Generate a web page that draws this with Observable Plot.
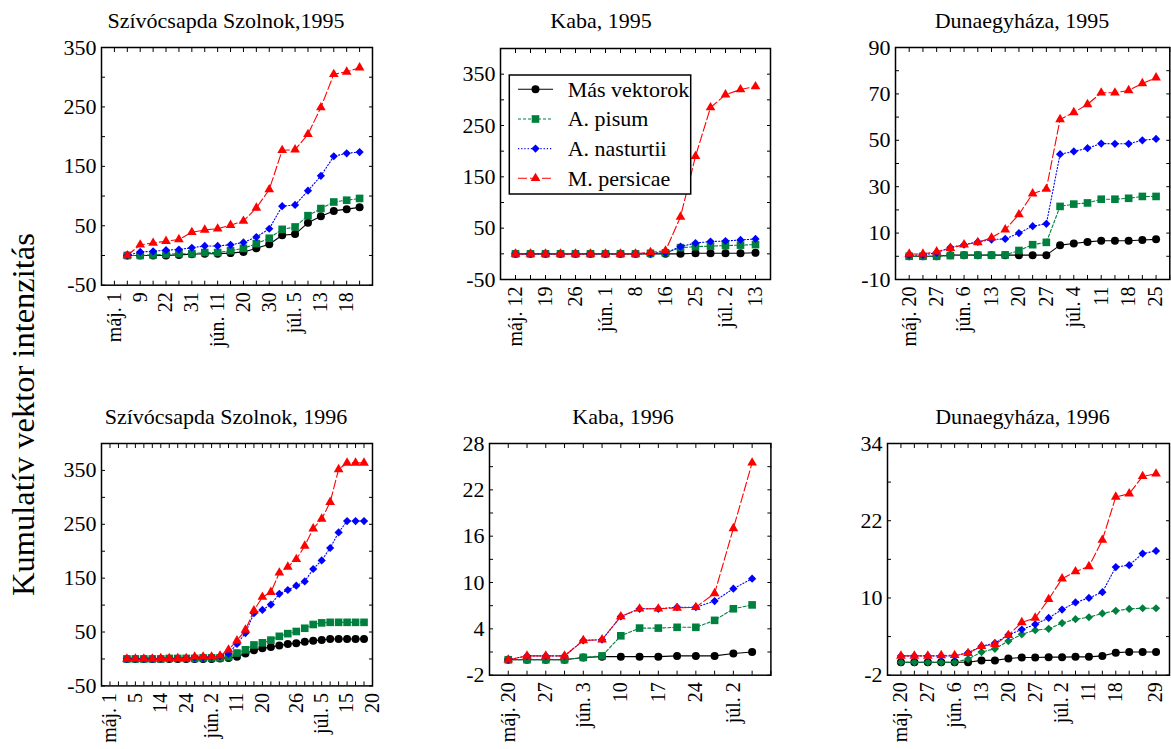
<!DOCTYPE html>
<html><head><meta charset="utf-8">
<script src="https://cdn.jsdelivr.net/npm/d3@7"></script>
<script src="https://cdn.jsdelivr.net/npm/@observablehq/plot@0.6"></script>
<style>
html,body{margin:0;padding:0;background:#fff;}
#wrap{position:relative;width:1171px;height:749px;overflow:hidden;font-family:"Liberation Serif","Times New Roman",serif;}
#wrap text{font-family:"Liberation Serif","Times New Roman",serif;}
</style></head><body><div id="wrap"></div>
<script>
// ---- series names ----
const seriesNames = ["Más vektorok", "A. pisum", "A. nasturtii", "M. persicae"];

// ---- Szívócsapda Szolnok, 1995 ----
const sz95Ticks = ["máj. 1","9","22","31","jún. 11","20","30","júl. 5","13","18"];
const sz95Mas   = [0,0,0,0,1,2,3,3,4,6,12,19,34,36,55,66,75,78,81];
const sz95Pisum = [0,0,1,2,3,3,5,5,8,12,20,29,44,48,67,79,90,93,96];
const sz95Nast  = [0,6,7,9,10,13,16,16,18,22,31,45,83,85,109,134,167,172,174];
const sz95Pers  = [0,18,21,24,27,39,43,45,51,58,80,111,177,178,204,249,305,309,316];

// ---- Kaba, 1995 ----
const kb95Ticks = ["máj. 12","19","26","jún. 1","8","16","25","júl. 2","13"];
const kb95Mas   = [0,0,0,0,0,0,0,0,0,0,0,0,1,1,1,1,2];
const kb95Pisum = [0,0,0,0,0,0,0,0,0,1,2,12,14,15,16,17,18];
const kb95Nast  = [0,0,0,0,0,0,0,0,0,1,2,14,21,24,25,27,29];
const kb95Pers  = [0,0,0,0,0,0,0,0,0,3,6,72,190,285,310,320,326];

// ---- Dunaegyháza, 1995 ----
const du95Ticks = ["máj. 20","27","jún. 6","13","20","27","júl. 4","11","18","25"];
const du95Mas   = [0,0,0,0.5,0.5,0.5,0.5,0.5,0.5,0.5,0.5,4.8,5.5,6.2,6.7,6.7,6.7,7,7.3];
const du95Pisum = [0,0,0,0.3,0.5,0.5,0.5,0.6,2.5,5,6,21.5,22.5,23,24.6,24.6,25,25.8,25.8];
const du95Nast  = [0.5,0.6,1.5,3.8,5,6.2,7.2,7.5,10,13,14,44,45.2,46.6,48.6,48.5,48.5,50,50.6];
const du95Pers  = [1,1,2,3.5,5,6,8,11.5,18,27,29,59,62,65.5,70.5,70.5,71.5,74.5,77];

// ---- Szívócsapda Szolnok, 1996 ----
const sz96Ticks = ["máj. 1","5","14","24","jún. 2","11","20","26","júl. 5","15","20"];
const sz96TickPos = [0,3,6,9,12,15,18,22,25,28,31];
const sz96Mas   = [0,0,0,0,0,0,0,0,0,0,0,1,2,4,10,16,20,22,25,28,29,32,34,35,37,37,37,37,37];
const sz96Pisum = [0,0,0,0,0,1,1,1,1,2,2,2,4,11,17,26,30,35,42,47,51,57,64,67,68,68,68,68,68];
const sz96Nast  = [0,0,0,0,1,1,1,1,3,3,4,5,10,28,48,85,91,101,121,128,136,144,167,183,206,235,256,256,256];
const sz96Pers  = [0,0,0,0,1,1,1,1,4,4,4,6,17,34,54,90,115,124,160,171,185,210,242,260,291,352,364,364,364];

// ---- Kaba, 1996 ----
const kb96Ticks = ["máj. 20","27","jún. 3","10","17","24","júl. 2"];
const kb96Mas   = [0,0,0,0,0.3,0.4,0.4,0.4,0.4,0.5,0.5,0.5,0.8,1];
const kb96Pisum = [0,0,0,0,0.3,0.5,3.1,4.1,4.1,4.2,4.2,5.1,6.6,7.1];
const kb96Nast  = [0,0.5,0.5,0.5,2.5,2.6,5.6,6.6,6.6,6.8,6.8,7.6,9.2,10.5];
const kb96Pers  = [0,0.5,0.5,0.5,2.5,2.6,5.6,6.6,6.6,6.7,6.8,8.6,17,25.5];

// ---- Dunaegyháza, 1996 ----
const du96Ticks = ["máj. 20","27","jún. 6","13","20","27","júl. 2","11","18","29"];
const du96TickPos = [0,2,4,6,8,10,12,14,16,19];
const du96Mas   = [0,0,0,0,0,0,0.3,0.3,0.6,0.75,0.75,0.8,0.8,0.85,0.85,1,1.5,1.6,1.6,1.6];
const du96Pisum = [0,0,0,0,0,0.5,1.6,2.1,3.3,4.35,5,5.2,6.1,6.7,7,7.6,8,8.3,8.4,8.4];
const du96Nast  = [1,1,1,1,1,1.5,2.5,3,4.25,5.1,5.9,6.9,8.2,9.3,10,10.9,14.8,15.1,16.9,17.3];
const du96Pers  = [1,1,1,1.07,1.1,1.4,2.5,2.8,4.2,6.2,6.9,9.8,13,14.1,14.9,19,25.7,26.2,28.9,29.3];

// ---- styles ----
const colors  = ["#000000", "#00803f", "#0000ff", "#ff0000"];
const dashes  = [null, "3,2", "1.2,2", "9,3"];
const symbols = ["circle", "square", "diamond2", "triangle"];
const radii   = [4.0, 4.3, 3.7, 3.6];
const FONT = '"Liberation Serif", "Times New Roman", serif';

const evenPos = n => d3.range(n).map(i => i * 2);

const panels = [
  {title: "Szívócsapda Szolnok,1995", tx: 226, ty: 28, box: [100.7, 47.3, 271, 237.7],
   xDomain: [-1, 20], first: 1, ticks: sz95Ticks, tickPos: evenPos(sz95Ticks.length),
   yDomain: [-50, 350], yLabels: [-50, 50, 150, 250, 350], yStep: 50,
   series: [sz95Mas, sz95Pisum, sz95Nast, sz95Pers]},
  {title: "Kaba, 1995", tx: 601, ty: 28, box: [500, 48.3, 270, 231],
   xDomain: [-1, 17], first: 0, ticks: kb95Ticks, tickPos: evenPos(kb95Ticks.length),
   yDomain: [-50, 400], yLabels: [-50, 50, 150, 250, 350], yStep: 50,
   series: [kb95Mas, kb95Pisum, kb95Nast, kb95Pers]},
  {title: "Dunaegyháza, 1995", tx: 1022, ty: 28, box: [895, 47.3, 274.3, 232],
   xDomain: [-1, 19], first: 0, ticks: du95Ticks, tickPos: evenPos(du95Ticks.length),
   yDomain: [-10, 90], yLabels: [-10, 10, 30, 50, 70, 90], yStep: 10,
   series: [du95Mas, du95Pisum, du95Nast, du95Pers]},
  {title: "Szívócsapda Szolnok, 1996", tx: 226, ty: 424, box: [100.7, 443.3, 271, 242.4],
   xDomain: [-1, 31], first: 2, ticks: sz96Ticks, tickPos: sz96TickPos,
   yDomain: [-50, 400], yLabels: [-50, 50, 150, 250, 350], yStep: 50,
   series: [sz96Mas, sz96Pisum, sz96Nast, sz96Pers]},
  {title: "Kaba, 1996", tx: 623, ty: 424, box: [489.3, 443.3, 281.4, 231.7],
   xDomain: [-1, 14], first: 0, ticks: kb96Ticks, tickPos: evenPos(kb96Ticks.length),
   yDomain: [-2, 28], yLabels: [-2, 4, 10, 16, 22, 28], yStep: 3,
   series: [kb96Mas, kb96Pisum, kb96Nast, kb96Pers]},
  {title: "Dunaegyháza, 1996", tx: 1022.5, ty: 424, box: [887.3, 443.3, 282, 231.7],
   xDomain: [-1, 20], first: 0, ticks: du96Ticks, tickPos: du96TickPos,
   yDomain: [-2, 34], yLabels: [-2, 10, 22, 34], yStep: 6,
   series: [du96Mas, du96Pisum, du96Nast, du96Pers], greenSymbol: "diamond2"}
];

const wrap = document.getElementById("wrap");
const mL = 62, mR = 4, mT = 6, mB = 80;

panels.forEach(p => {
  const [bx, by, bw, bh] = p.box;
  const labelMap = new Map(p.tickPos.map((pos, i) => [pos, p.ticks[i]]));
  const yMinor = d3.range(p.yDomain[0], p.yDomain[1] + 1e-9, p.yStep);
  const xMinor = d3.range(Math.ceil(p.xDomain[0]), p.xDomain[1] + 1e-9, 1);
  const marks = [
    Plot.axisY(yMinor, {anchor: "left", tickSize: 4, dx: 4, fill: "none", label: null}),
    Plot.axisY(yMinor, {anchor: "right", tickSize: 4, dx: -4, fill: "none", label: null}),
    Plot.axisX(xMinor, {anchor: "top", tickSize: 4, dy: 4, fill: "none", label: null}),
    Plot.axisX(xMinor, {anchor: "bottom", tickSize: 4, dy: -4, fill: "none", label: null}),
    Plot.axisY(p.yLabels, {anchor: "left", tickSize: 0, tickPadding: 5, tickFormat: d => String(d), fontSize: 22, label: null}),
    Plot.axisX(p.tickPos, {anchor: "bottom", tickSize: 0, tickPadding: 7, tickRotate: -90, tickFormat: d => labelMap.get(d), fontSize: 20, label: null})
  ];
  p.series.forEach((vals, s) => {
    const rows = vals.map((v, i) => ({x: p.first + i, y: v}));
    marks.push(Plot.line(rows, {x: "x", y: "y", stroke: colors[s], strokeWidth: 1.1, strokeDasharray: dashes[s]}));
    const sym = (s === 1 && p.greenSymbol) ? p.greenSymbol : symbols[s];
    const r = (sym === "diamond2") ? radii[2] : radii[s];
    marks.push(Plot.dot(rows, {x: "x", y: "y", symbol: () => sym, fill: colors[s], stroke: "none", r}));
  });
  marks.push(Plot.frame({stroke: "#000", strokeWidth: 1.5}));
  const svg = Plot.plot({
    width: bw + mL + mR, height: bh + mT + mB,
    marginLeft: mL, marginRight: mR, marginTop: mT, marginBottom: mB,
    x: {domain: p.xDomain}, y: {domain: p.yDomain},
    style: {fontFamily: FONT, background: "transparent", overflow: "visible", color: "#000"},
    marks
  });
  svg.style.position = "absolute";
  svg.style.left = (bx - mL) + "px";
  svg.style.top = (by - mT) + "px";
  wrap.appendChild(svg);
});

// ---- overlay: y label, titles, legend ----
const ov = d3.select(wrap).append("svg")
  .attr("width", 1171).attr("height", 749)
  .attr("font-family", FONT)
  .style("position", "absolute").style("left", "0px").style("top", "0px");

ov.append("text")
  .attr("transform", "translate(34,414.5) rotate(-90)")
  .attr("text-anchor", "middle").attr("font-size", 32.5)
  .attr("font-family", FONT)
  .text("Kumulatív vektor intenzitás");

panels.forEach(p => {
  ov.append("text").attr("x", p.tx).attr("y", p.ty)
    .attr("font-family", FONT)
    .attr("text-anchor", "middle").attr("font-size", 22).text(p.title);
});

const lg = ov.append("g");
lg.append("rect").attr("x", 509.3).attr("y", 75).attr("width", 181.4).attr("height", 119)
  .attr("fill", "#fff").attr("stroke", "#000").attr("stroke-width", 1.5);
const legendY = [89.3, 119, 148.6, 178.3];
seriesNames.forEach((name, s) => {
  const y = legendY[s];
  lg.append("line").attr("x1", 518).attr("x2", 553).attr("y1", y).attr("y2", y)
    .attr("stroke", colors[s]).attr("stroke-width", 1.1)
    .attr("stroke-dasharray", dashes[s]);
  const symType = {circle: d3.symbolCircle, square: d3.symbolSquare, diamond2: d3.symbolDiamond2, triangle: d3.symbolTriangle}[symbols[s]];
  lg.append("path").attr("transform", `translate(535.5,${y})`)
    .attr("d", d3.symbol(symType, Math.PI * radii[s] * radii[s])())
    .attr("fill", colors[s]);
  lg.append("text").attr("x", 567.7).attr("y", y).attr("dy", "0.34em")
    .attr("font-family", FONT)
    .attr("font-size", 22).text(name);
});
</script></body></html>
